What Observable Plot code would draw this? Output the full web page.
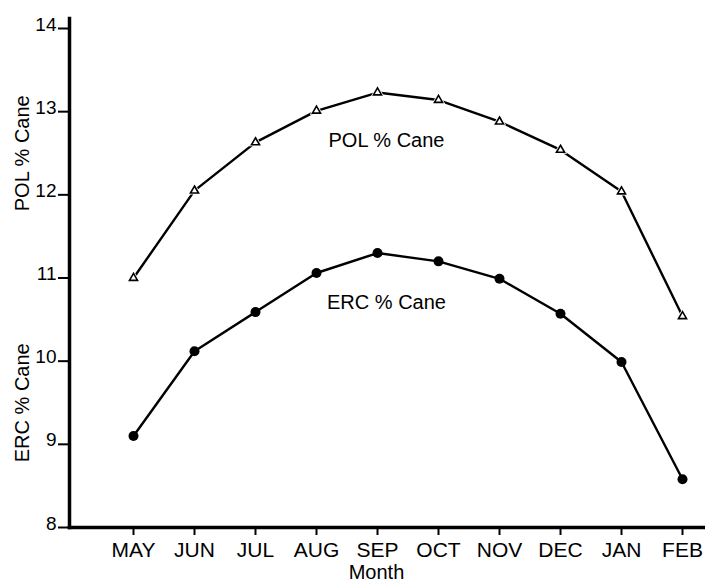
<!DOCTYPE html>
<html>
<head>
<meta charset="utf-8">
<script src="https://cdn.jsdelivr.net/npm/d3@7"></script>
<script src="https://cdn.jsdelivr.net/npm/@observablehq/plot@0.6"></script>
<style>
  html, body { margin: 0; padding: 0; background: #fff; }
  #chart svg { display: block; }
</style>
</head>
<body>
<div id="chart"></div>
<script>
const months = ["MAY", "JUN", "JUL", "AUG", "SEP", "OCT", "NOV", "DEC", "JAN", "FEB"];
const polValues = [11.0, 12.05, 12.63, 13.01, 13.23, 13.14, 12.88, 12.54, 12.04, 10.54];
const ercValues = [9.10, 10.12, 10.59, 11.06, 11.30, 11.20, 10.99, 10.57, 9.99, 8.58];
const yTicks = [8, 9, 10, 11, 12, 13, 14];
const seriesNames = ["POL % Cane", "ERC % Cane"];
const axisTitles = ["POL % Cane", "ERC % Cane"];
const axisTitleMid = [12.5, 9.5];
const xTitle = "Month";
const labelMonth = "SEP";

const pol = months.map((m, i) => ({month: m, value: polValues[i]}));
const erc = months.map((m, i) => ({month: m, value: ercValues[i]}));
const li = months.indexOf(labelMonth);
const polLabel = [{month: labelMonth, value: polValues[li], text: seriesNames[0]}];
const ercLabel = [{month: labelMonth, value: ercValues[li], text: seriesNames[1]}];
const titleRows = axisTitles.map((t, i) => ({text: t, y: axisTitleMid[i]}));

const font = "'Liberation Sans', Arial, Helvetica, sans-serif";

const chart = Plot.plot({
  width: 705,
  height: 583,
  marginLeft: 69,
  marginRight: 0,
  marginTop: 18,
  marginBottom: 56,
  style: {fontFamily: font, color: "#000", background: "#fff"},
  x: {type: "point", domain: months, padding: 0, insetLeft: 63, insetRight: 22},
  y: {domain: [8, 14], insetTop: 10},
  marks: [
    Plot.axisY({ticks: yTicks, tickSize: 11, tickFormat: () => "", label: null, strokeWidth: 2}),
    Plot.axisY({ticks: yTicks, tickSize: 0, tickPadding: 13, tickFormat: d3.format("d"), fontSize: 19, dy: -4, label: null}),
    Plot.axisX({tickSize: 8, tickPadding: 7, fontSize: 21, label: null, strokeWidth: 2}),
    Plot.frame({anchor: "left", strokeWidth: 3.5}),
    Plot.frame({anchor: "bottom", strokeWidth: 3.5}),
    Plot.line(pol, {x: "month", y: "value", stroke: "#000", strokeWidth: 2.4}),
    Plot.dot(pol, {x: "month", y: "value", symbol: "triangle", r: 5, fill: "#fff", stroke: "none"}),
    Plot.dot(pol, {x: "month", y: "value", symbol: "triangle", r: 3, fill: "#fff", stroke: "#000", strokeWidth: 1.6}),
    Plot.line(erc, {x: "month", y: "value", stroke: "#000", strokeWidth: 2.4}),
    Plot.dot(erc, {x: "month", y: "value", r: 5, fill: "#000", stroke: "none"}),
    Plot.text(polLabel, {x: "month", y: "value", text: "text", dy: 48, dx: 9, fontSize: 20}),
    Plot.text(ercLabel, {x: "month", y: "value", text: "text", dy: 50, dx: 9, fontSize: 20}),
    Plot.text(titleRows, {y: "y", text: "text", frameAnchor: "left", textAnchor: "middle", dx: -47, rotate: -90, fontSize: 20}),
    Plot.text([xTitle], {frameAnchor: "bottom", text: (d) => d, dy: 51, dx: -11, fontSize: 20})
  ]
});
document.getElementById("chart").appendChild(chart);
</script>
</body>
</html>
